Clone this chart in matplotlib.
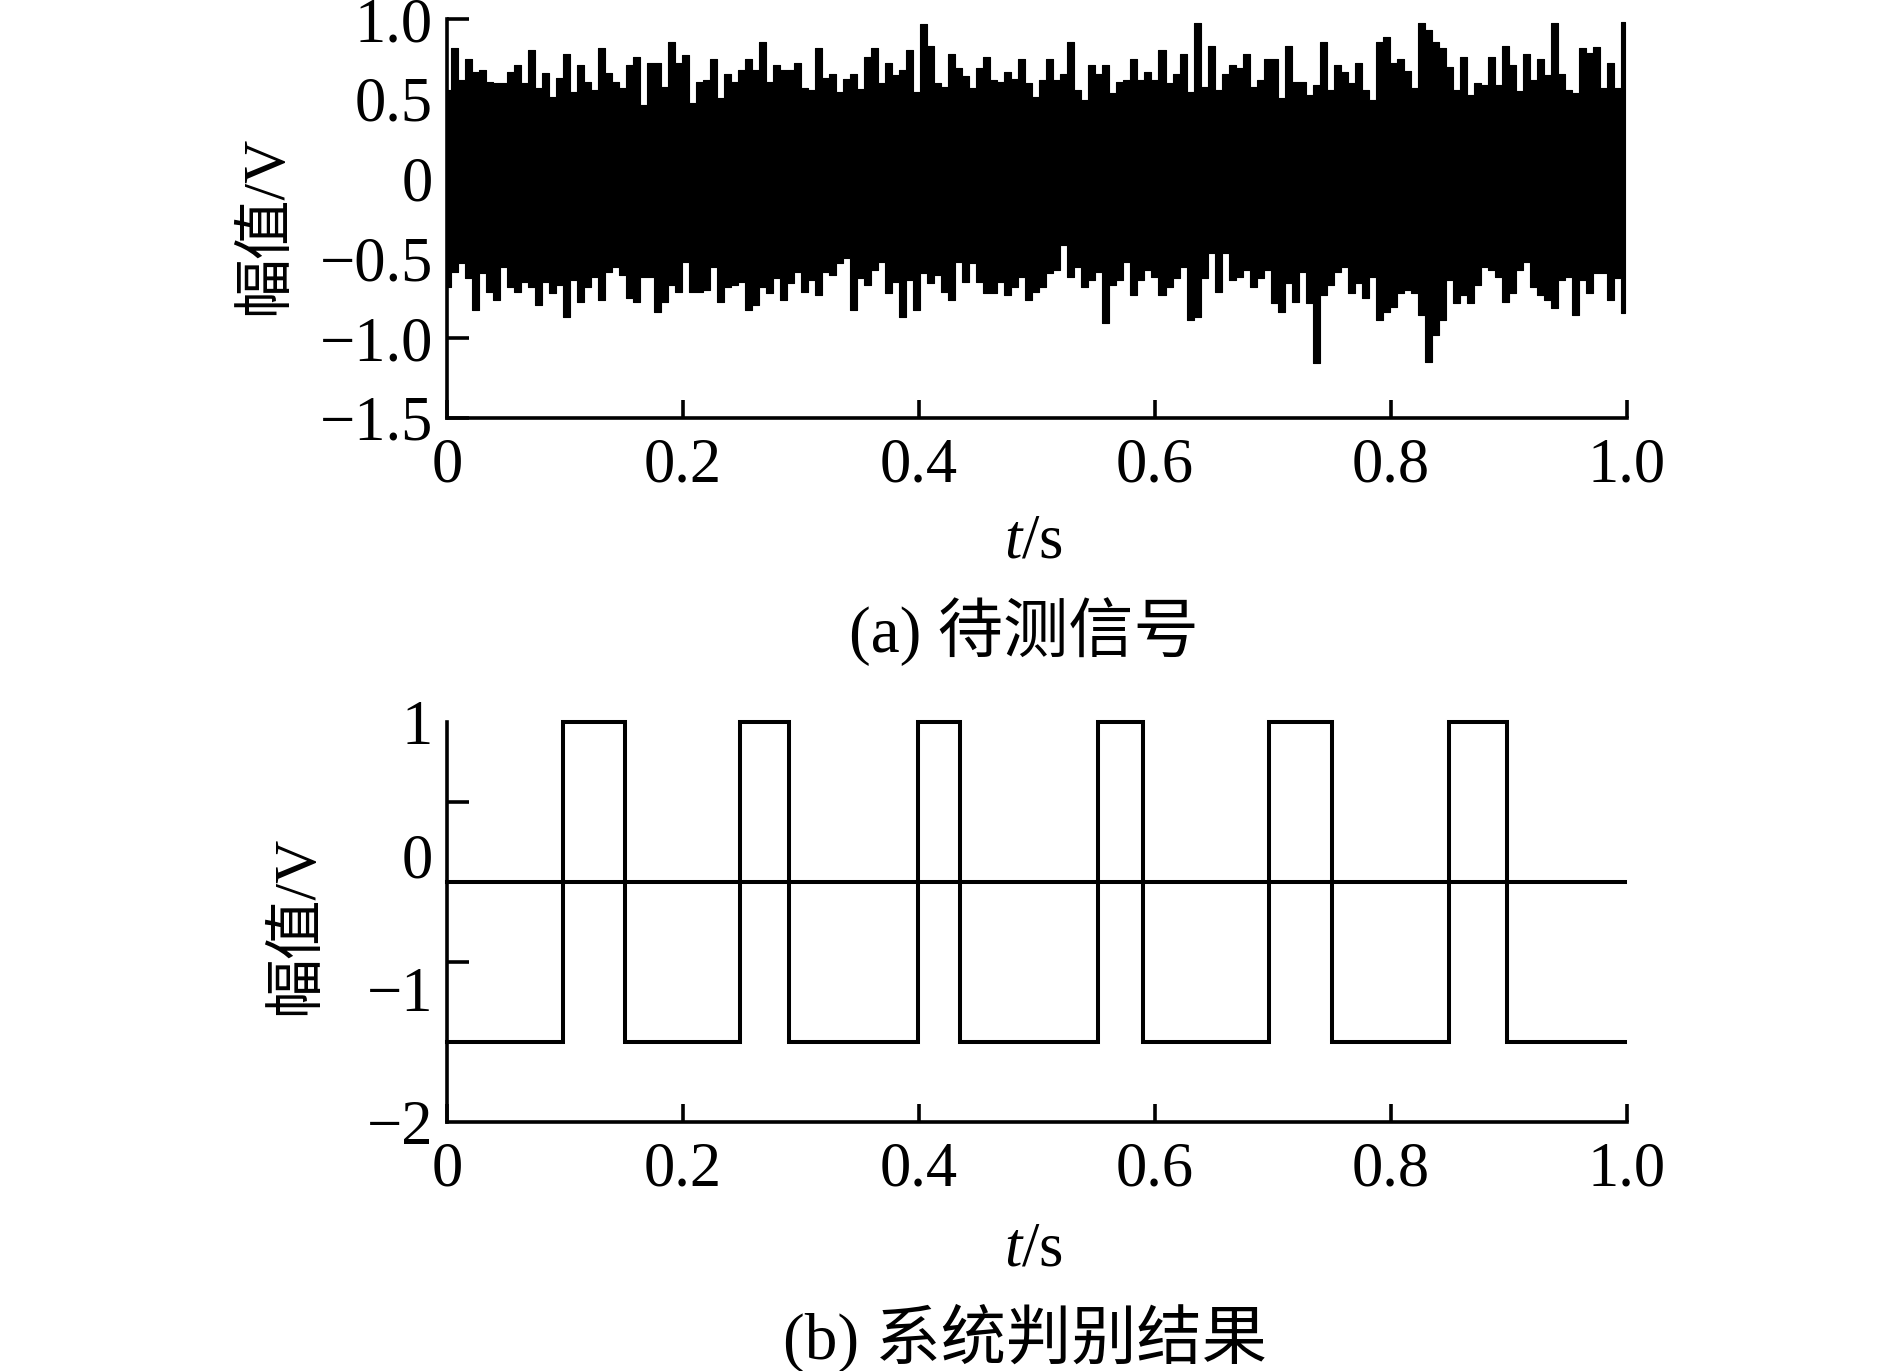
import numpy as np
import matplotlib
matplotlib.use("Agg")
import matplotlib.pyplot as plt

plt.rcParams['font.family'] = ['Liberation Serif', 'Noto Sans CJK SC']
plt.rcParams['mathtext.fontset'] = 'custom'
plt.rcParams['mathtext.it'] = 'Liberation Serif:italic'
plt.rcParams['mathtext.rm'] = 'Liberation Serif'
plt.rcParams['axes.unicode_minus'] = True

# ---------------- data ----------------
# (a) measured noisy signal: upper / lower extremes read along the time axis
upper_env = [
    0.555, 0.816, 0.618, 0.747, 0.670, 0.680, 0.607, 0.597, 0.597, 0.670,
    0.712, 0.597, 0.806, 0.566, 0.664, 0.513, 0.628, 0.778, 0.545, 0.712,
    0.607, 0.555, 0.816, 0.664, 0.607, 0.566, 0.712, 0.764, 0.461, 0.722,
    0.722, 0.576, 0.858, 0.722, 0.774, 0.471, 0.607, 0.618, 0.747, 0.503,
    0.655, 0.607,
    0.680, 0.747, 0.680, 0.858, 0.607, 0.712, 0.680, 0.680, 0.722, 0.566,
    0.555, 0.816, 0.628, 0.655, 0.545, 0.622, 0.655, 0.559, 0.760, 0.816,
    0.601, 0.726, 0.649, 0.680, 0.806, 0.545, 0.970, 0.831, 0.597, 0.572,
    0.781, 0.691, 0.643, 0.566, 0.691, 0.760, 0.618, 0.607, 0.670, 0.622,
    0.747, 0.597, 0.513,
    0.618, 0.747, 0.618, 0.655, 0.858, 0.555, 0.492, 0.712, 0.655, 0.712,
    0.538, 0.607, 0.618, 0.747, 0.618, 0.670, 0.618, 0.806, 0.597, 0.655,
    0.781, 0.545, 0.973, 0.576, 0.831, 0.555, 0.655, 0.712, 0.691, 0.781,
    0.576, 0.618, 0.747, 0.747, 0.503, 0.831, 0.607, 0.607, 0.524, 0.586,
    0.858, 0.555, 0.712,
    0.670, 0.597, 0.722, 0.555, 0.492, 0.858, 0.885, 0.722, 0.747, 0.676,
    0.566, 0.973, 0.931, 0.858, 0.816, 0.701, 0.555, 0.760, 0.524, 0.597,
    0.586, 0.760, 0.586, 0.831, 0.712, 0.551, 0.781, 0.618, 0.747, 0.649,
    0.973, 0.655, 0.555, 0.538, 0.816, 0.785, 0.826, 0.566, 0.722, 0.566,
    0.983,
]
lower_env = [
    -0.678, -0.584, -0.531, -0.625, -0.824, -0.594, -0.709, -0.761, -0.552, -0.678,
    -0.709, -0.646, -0.678, -0.792, -0.646, -0.719, -0.667, -0.865, -0.636, -0.772,
    -0.678, -0.615, -0.761, -0.584, -0.552, -0.604, -0.751, -0.772, -0.615, -0.615,
    -0.834, -0.772, -0.667, -0.709, -0.521, -0.709, -0.709, -0.698, -0.552, -0.772,
    -0.678, -0.667,
    -0.646, -0.824, -0.792, -0.678, -0.719, -0.625, -0.761, -0.657, -0.584, -0.709,
    -0.636, -0.730, -0.584, -0.604, -0.531, -0.500, -0.824, -0.625, -0.667, -0.573,
    -0.521, -0.719, -0.646, -0.865, -0.636, -0.824, -0.594, -0.657, -0.604, -0.709,
    -0.761, -0.521, -0.646, -0.531, -0.646, -0.719, -0.719, -0.646, -0.730, -0.678,
    -0.615, -0.761, -0.709,
    -0.678, -0.594, -0.573, -0.416, -0.615, -0.552, -0.678, -0.636, -0.584, -0.903,
    -0.667, -0.636, -0.521, -0.730, -0.636, -0.573, -0.615, -0.730, -0.678, -0.625,
    -0.552, -0.886, -0.865, -0.625, -0.469, -0.709, -0.469, -0.636, -0.615, -0.573,
    -0.678, -0.625, -0.573, -0.782, -0.834, -0.657, -0.772, -0.584, -0.782, -1.154,
    -0.730, -0.667, -0.584,
    -0.552, -0.719, -0.657, -0.751, -0.615, -0.886, -0.834, -0.803, -0.719, -0.698,
    -0.719, -0.855, -1.148, -0.980, -0.886, -0.636, -0.782, -0.730, -0.782, -0.667,
    -0.552, -0.573, -0.615, -0.772, -0.719, -0.573, -0.521, -0.678, -0.730, -0.761,
    -0.813, -0.636, -0.615, -0.855, -0.636, -0.719, -0.594, -0.594, -0.761, -0.625,
    -0.845,
]
t_end = 0.998

# (b) decision result: pulse edges and levels
pulse_start = [0.098, 0.248, 0.399, 0.552, 0.697, 0.849]
pulse_end = [0.151, 0.290, 0.435, 0.590, 0.750, 0.898]
level_high = 1.0
level_low = -1.4
level_ref = -0.2

x_ticks = [0, 0.2, 0.4, 0.6, 0.8, 1.0]
x_ticklabels = ["0", "0.2", "0.4", "0.6", "0.8", "1.0"]
top_yticks = [1.0, 0.5, 0, -0.5, -1.0, -1.5]
top_yticklabels = ["1.0", "0.5", "0", "\u22120.5", "\u22121.0", "\u22121.5"]
bot_ylabel_pos = [1, 0, -1, -2]
bot_yticklabels = ["1", "0", "\u22121", "\u22122"]
bot_ytick_marks = [1, 0.4, -0.2, -0.8, -1.4, -2]

# ---------------- figure ----------------
W, H = 1889, 1371
fig = plt.figure(figsize=(W / 100, H / 100), dpi=100)
ax1 = fig.add_axes([447 / W, 1 - 418 / H, 1180 / W, 399 / H])
ax2 = fig.add_axes([447 / W, 1 - 1122 / H, 1180 / W, 400 / H])

LW = 2.6
TICKFS = 45


def style(ax):
    for s in ['top', 'right']:
        ax.spines[s].set_visible(False)
    for s in ['left', 'bottom']:
        ax.spines[s].set_linewidth(LW)
    ax.tick_params(which='both', direction='in', width=LW, top=False, right=False,
                   labelsize=TICKFS)
    ax.tick_params(axis='x', length=13, pad=14)
    ax.tick_params(axis='y', length=16, pad=10)
    ax.set_xlim(0, 1.0)
    ax.set_xticks(x_ticks)
    ax.set_xticklabels(x_ticklabels)


# (a) noisy signal (dense waveform shown by its sample-wise extremes)
n = min(len(upper_env), len(lower_env))
t_env = np.linspace(0, t_end, n)
ax1.fill_between(t_env, lower_env[:n], upper_env[:n], step='mid',
                 facecolor='black', edgecolor='black', lw=0.8)
style(ax1)
ax1.set_ylim(-1.5, 1.0)
ax1.set_yticks(top_yticks)
ax1.set_yticklabels(top_yticklabels)
ax1.set_ylabel("幅值/V", fontsize=43, ha='center', va='center')
ax1.yaxis.set_label_coords(-0.1525, 0.484)
ax1.set_xlabel("$t$/s", fontsize=45, ha='center', va='center')
ax1.xaxis.set_label_coords(0.497, -0.311)

# (b) square-wave decision
xs = [0.0]
ys = [level_low]
for s, e in zip(pulse_start, pulse_end):
    xs += [s, s, e, e]
    ys += [level_low, level_high, level_high, level_low]
xs.append(t_end)
ys.append(level_low)
ax2.plot(xs, ys, color='black', lw=2.9, clip_on=False, solid_joinstyle='miter')
ax2.plot([0, t_end], [level_ref, level_ref], color='black', lw=2.9, clip_on=False)
style(ax2)
ax2.set_ylim(-2, 1)
ax2.set_yticks(bot_ylabel_pos)
ax2.set_yticklabels(bot_yticklabels)
ax2.tick_params(axis='y', which='major', length=0)
ax2.set_yticks(bot_ytick_marks, minor=True)
ax2.tick_params(axis='y', which='minor', direction='in', length=16, width=LW, left=True)
ax2.set_ylabel("幅值/V", fontsize=43, ha='center', va='center')
ax2.yaxis.set_label_coords(-0.127, 0.4925)
ax2.set_xlabel("$t$/s", fontsize=45, ha='center', va='center')
ax2.xaxis.set_label_coords(0.497, -0.32)

# captions
fig.text(1024 / W, 1 - 632 / H, "(a) 待测信号", fontsize=47, ha='center', va='center')
fig.text(1025 / W, 1 - 1338 / H, "(b) 系统判别结果", fontsize=47, ha='center', va='center')

fig.savefig("out.png", dpi=100)
